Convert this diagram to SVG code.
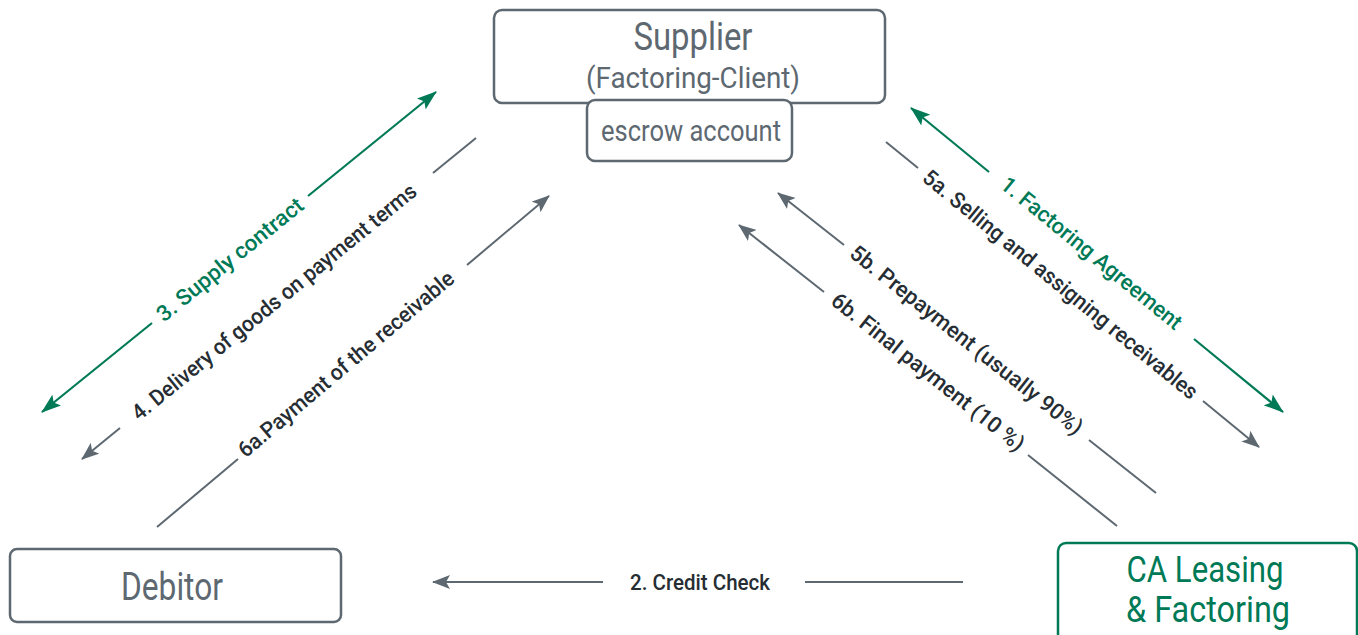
<svg xmlns="http://www.w3.org/2000/svg" width="1358" height="635" viewBox="0 0 1358 635">
<defs>
<style>
.box{fill:#fff;stroke:#5d6871;stroke-width:2.5}
.gbox{fill:#fff;stroke:#007a56;stroke-width:2.5}
.btxt{font-family:Roboto,"Liberation Sans",sans-serif;fill:#5d6871;text-anchor:middle}
.gtxt{font-family:Roboto,"Liberation Sans",sans-serif;fill:#007a56;text-anchor:middle}
.lbl{font-family:Roboto,"Liberation Sans",sans-serif;font-size:22px;font-weight:500;fill:#262d33;text-anchor:middle;dominant-baseline:central}
.glbl{font-family:Roboto,"Liberation Sans",sans-serif;font-size:22px;font-weight:500;fill:#007a56;text-anchor:middle;dominant-baseline:central}
.gl{stroke:#5d6871;stroke-width:2;fill:none}
.gn{stroke:#007a56;stroke-width:2.2;fill:none}
</style>
<marker id="ag" markerUnits="userSpaceOnUse" markerWidth="18" markerHeight="14" refX="17" refY="7" orient="auto-start-reverse" viewBox="0 0 18 14"><path d="M0,0 L18,7 L0,14 L4,7 z" fill="#5d6871"/></marker>
<marker id="an" markerUnits="userSpaceOnUse" markerWidth="20" markerHeight="14" refX="19" refY="7" orient="auto-start-reverse" viewBox="0 0 20 14"><path d="M0,0 L20,7 L0,14 L4,7 z" fill="#007a56"/></marker>
</defs>

<g id="supplier">
<rect class="box" x="494" y="10" width="391" height="93" rx="8"/>
<text class="btxt" x="693" y="50" font-size="38" textLength="119" lengthAdjust="spacingAndGlyphs">Supplier</text>
<text class="btxt" x="693" y="88" font-size="29" textLength="214" lengthAdjust="spacingAndGlyphs">(Factoring-Client)</text>
</g>
<g id="escrow">
<rect class="box" x="587" y="100" width="205" height="61" rx="8"/>
<text class="btxt" x="691" y="141" font-size="29" textLength="180" lengthAdjust="spacingAndGlyphs">escrow account</text>
</g>
<g id="debitor">
<rect class="box" x="10" y="549" width="331" height="73" rx="7"/>
<text class="btxt" x="172" y="600" font-size="39" textLength="102" lengthAdjust="spacingAndGlyphs">Debitor</text>
</g>
<g id="ca">
<rect class="gbox" x="1058" y="543" width="299" height="100" rx="8"/>
<text class="gtxt" x="1205" y="582" font-size="36" textLength="157" lengthAdjust="spacingAndGlyphs">CA Leasing</text>
<text class="gtxt" x="1208" y="622" font-size="36" textLength="164" lengthAdjust="spacingAndGlyphs">&amp; Factoring</text>
</g>

<g id="connectors">
<!-- 3. Supply contract -->
<line class="gn" x1="152" y1="323" x2="42" y2="412" marker-end="url(#an)"/>
<line class="gn" x1="308" y1="196" x2="436" y2="92" marker-end="url(#an)"/>
<text class="glbl" transform="translate(230,259.5) rotate(-39.1)" textLength="182" lengthAdjust="spacingAndGlyphs">3. Supply contract</text>
<!-- 4. Delivery -->
<line class="gl" x1="476" y1="138" x2="433" y2="173"/>
<line class="gl" x1="120" y1="428" x2="82" y2="459" marker-end="url(#ag)"/>
<text class="lbl" transform="translate(274,302) rotate(-39.2)" textLength="360" lengthAdjust="spacingAndGlyphs">4. Delivery of goods on payment terms</text>
<!-- 6a -->
<line class="gl" x1="157" y1="527" x2="238" y2="459"/>
<line class="gl" x1="467" y1="265" x2="549" y2="196" marker-end="url(#ag)"/>
<text class="lbl" transform="translate(346,364) rotate(-40.2)" textLength="275" lengthAdjust="spacingAndGlyphs">6a.Payment of the receivable</text>
<!-- 1. Factoring Agreement -->
<line class="gn" x1="989" y1="172" x2="911" y2="108" marker-end="url(#an)"/>
<line class="gn" x1="1194" y1="339" x2="1283" y2="412" marker-end="url(#an)"/>
<text class="glbl" transform="translate(1091.5,253) rotate(39.3)" textLength="227" lengthAdjust="spacingAndGlyphs">1. Factoring Agreement</text>
<!-- 5a -->
<line class="gl" x1="886" y1="142" x2="918" y2="168"/>
<line class="gl" x1="1203" y1="401" x2="1259" y2="447" marker-end="url(#ag)"/>
<text class="lbl" transform="translate(1060.5,284.5) rotate(39.3)" textLength="348" lengthAdjust="spacingAndGlyphs">5a. Selling and assigning receivables</text>
<!-- 5b -->
<line class="gl" x1="844" y1="245" x2="778" y2="193" marker-end="url(#ag)"/>
<line class="gl" x1="1089" y1="440" x2="1156" y2="493"/>
<text class="lbl" transform="translate(966.5,340) rotate(38.4)" textLength="290" lengthAdjust="spacingAndGlyphs">5b. Prepayment (usually 90%)</text>
<!-- 6b -->
<line class="gl" x1="824" y1="292" x2="739" y2="225" marker-end="url(#ag)"/>
<line class="gl" x1="1028" y1="455" x2="1117" y2="526"/>
<text class="lbl" transform="translate(928,372) rotate(38.5)" textLength="240" lengthAdjust="spacingAndGlyphs">6b. Final payment (10 %)</text>
<!-- 2. Credit Check -->
<line class="gl" x1="963" y1="582" x2="805" y2="582"/>
<line class="gl" x1="603" y1="582" x2="433" y2="582" marker-end="url(#ag)"/>
<text class="lbl" x="700" y="582" textLength="140" lengthAdjust="spacingAndGlyphs">2. Credit Check</text>
</g>
</svg>
